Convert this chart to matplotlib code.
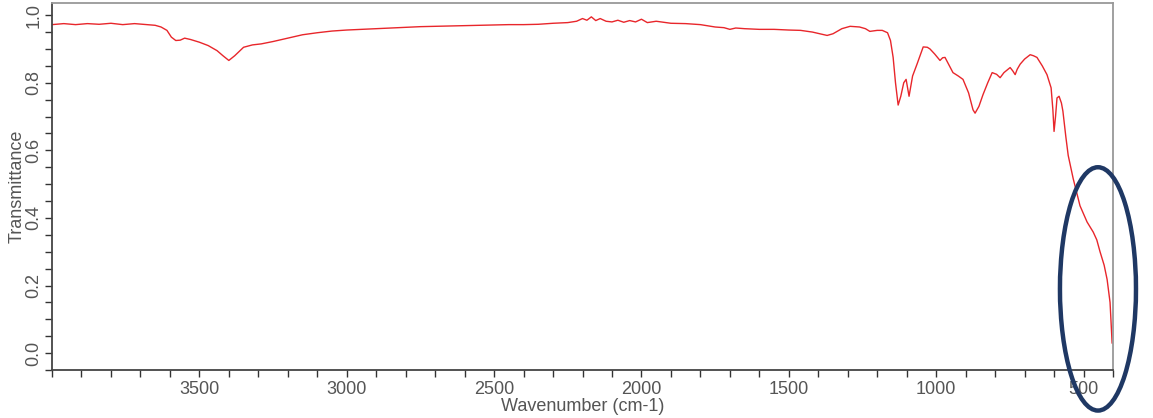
import matplotlib
matplotlib.use("Agg")
import matplotlib.pyplot as plt
from matplotlib.patches import Ellipse
from matplotlib.ticker import MultipleLocator

wavenumber = [4000, 3960, 3920, 3880, 3840, 3800, 3760, 3720, 3680, 3650, 3630, 3610, 3595, 3580,
              3565, 3550, 3530, 3500, 3470, 3440, 3420, 3400, 3380, 3350, 3320, 3290, 3250, 3200,
              3150, 3100, 3050, 3000, 2950, 2900, 2850, 2800, 2750, 2700, 2650, 2600, 2550, 2500,
              2450, 2400, 2350, 2300, 2250, 2220, 2200, 2185, 2170, 2155, 2140, 2120, 2100, 2080,
              2060, 2040, 2020, 2000, 1980, 1950, 1900, 1850, 1800, 1750, 1720, 1700, 1680, 1650,
              1600, 1550, 1500, 1460, 1420, 1390, 1370, 1350, 1320, 1292, 1260, 1240, 1225, 1200,
              1183, 1165, 1155, 1146, 1138, 1129, 1120, 1110, 1102, 1096, 1092, 1080, 1065, 1044,
              1030, 1021, 1005, 987, 978, 970, 955, 943, 925, 909, 890, 875, 868, 855, 841, 825,
              810, 795, 783, 770, 749, 740, 732, 725, 715, 700, 681, 670, 658, 640, 624, 610, 604,
              600, 595, 590, 583, 575, 570, 560, 552, 535, 512, 488, 467, 455, 444, 430, 420, 410,
              403]
transmittance = [0.972, 0.975, 0.972, 0.975, 0.973, 0.976, 0.972, 0.975, 0.972, 0.970, 0.965, 0.955,
                 0.935, 0.925, 0.926, 0.932, 0.928, 0.920, 0.910, 0.895, 0.880, 0.866, 0.880, 0.905,
                 0.912, 0.915, 0.922, 0.932, 0.942, 0.948, 0.953, 0.956, 0.958, 0.960, 0.962, 0.964,
                 0.966, 0.967, 0.968, 0.969, 0.970, 0.971, 0.972, 0.972, 0.973, 0.976, 0.978, 0.982,
                 0.990, 0.985, 0.995, 0.984, 0.990, 0.982, 0.980, 0.985, 0.979, 0.984, 0.980, 0.988,
                 0.978, 0.982, 0.976, 0.975, 0.972, 0.965, 0.963, 0.958, 0.962, 0.960, 0.958, 0.958,
                 0.956, 0.955, 0.950, 0.944, 0.940, 0.945, 0.960, 0.967, 0.965, 0.960, 0.952, 0.955,
                 0.955, 0.948, 0.925, 0.875, 0.800, 0.734, 0.760, 0.800, 0.810, 0.780, 0.760, 0.820,
                 0.855, 0.906, 0.905, 0.900, 0.885, 0.866, 0.874, 0.875, 0.850, 0.830, 0.820, 0.810,
                 0.770, 0.720, 0.710, 0.730, 0.765, 0.800, 0.830, 0.825, 0.815, 0.830, 0.845, 0.835,
                 0.824, 0.840, 0.855, 0.870, 0.883, 0.880, 0.875, 0.850, 0.824, 0.785, 0.720, 0.656,
                 0.700, 0.755, 0.760, 0.740, 0.716, 0.640, 0.585, 0.516, 0.436, 0.388, 0.358, 0.335,
                 0.300, 0.260, 0.218, 0.150, 0.030]

x_major = [3500, 3000, 2500, 2000, 1500, 1000, 500]
y_major = [0.0, 0.2, 0.4, 0.6, 0.8, 1.0]

plt.rcParams['font.family'] = ['Liberation Sans', 'DejaVu Sans']

fig = plt.figure(figsize=(11.53, 4.18), dpi=100)
ax = fig.add_axes([52/1153, 1 - 370/418, (1113-52)/1153, (370-3)/418])

ax.plot(wavenumber, transmittance, color='#e8262b', linewidth=1.0)

ax.set_xlim(4000, 400)
ax.set_ylim(-0.05, 1.036)

ax.set_xticks(x_major)
ax.set_xticklabels([str(v) for v in x_major])
ax.xaxis.set_minor_locator(MultipleLocator(100))
ax.set_yticks(y_major)
ax.set_yticklabels([f"{v:.1f}" for v in y_major], rotation=90, va='center')
ax.yaxis.set_minor_locator(MultipleLocator(0.05))

ax.tick_params(which='both', direction='out', length=5, width=1, color='#333333',
               labelsize=13, labelcolor='#555555', pad=3)
ax.tick_params(axis='y', pad=2)

for side in ['left', 'bottom']:
    ax.spines[side].set_color('#444444')
    ax.spines[side].set_linewidth(1.3)
for side in ['top', 'right']:
    ax.spines[side].set_color('#999999')
    ax.spines[side].set_linewidth(1.3)

ax.set_xlabel('Wavenumber (cm-1)', fontsize=13, color='#555555', labelpad=0)
ax.set_ylabel('Transmittance', fontsize=13, color='#555555', labelpad=0)

ell = Ellipse((451, 0.19), width=258, height=0.72, fill=False,
              edgecolor='#1f3864', linewidth=3.2, clip_on=False, zorder=5)
ax.add_patch(ell)

fig.savefig('out.png', dpi=100)
